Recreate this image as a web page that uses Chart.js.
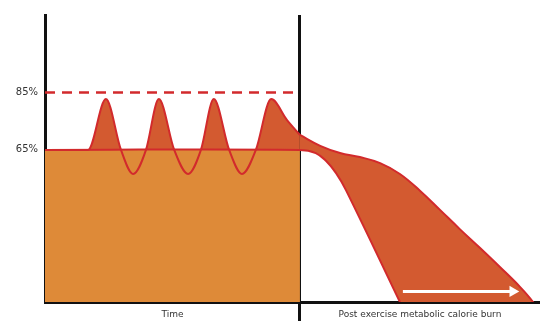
<!DOCTYPE html>
<html>
<head>
<meta charset="utf-8">
<script src="https://cdn.jsdelivr.net/npm/chart.js@4/dist/chart.umd.min.js"></script>
<style>
  html, body { margin: 0; padding: 0; background: #fff; }
  #wrap { width: 540px; height: 321px; position: relative; }
</style>
</head>
<body>
<div id="wrap"><canvas id="burnChart"></canvas></div>
<script>
// intensity (% of max heart rate) over time, arbitrary time units 0..100
const exerciseEnd = 51.5;
const yTicks = [65, 85];
const baseLevel = 65;
const targetLevel = 85;
const xLabels = ['Time', '', 'Post exercise metabolic calorie burn'];

// interval workout curve
const waveX = [0, 8.7, 12.3, 15.35, 17.8, 20.4, 23.0, 26.1, 28.9, 31.5, 34.1, 37.2, 39.8, 42.6, 45.7, 48.9, 51.5];
const waveY = [65, 65, 82.7, 65, 56.6, 65, 82.7, 65, 56.6, 65, 82.7, 65, 56.6, 65, 82.7, 75.4, 70.2];

// upper edge of the afterburn
const burnHighX = [51.5, 55.6, 59.6, 63.6, 67.7, 71.7, 75.8, 79.8, 83.8, 87.9, 91.9, 96.0, 98.6, 99.1];
const burnHighY = [70.2, 66.4, 63.9, 62.5, 60.4, 56.6, 50.7, 44.1, 37.4, 30.8, 24.2, 17.2, 12, 10.1];

// steady 65% baseline, then the lower edge of the afterburn
const lowerX = [0, 51.5, 54.7, 56.8, 58.8, 60.8, 71.7, 72.2, 99.1];
const lowerY = [65, 65, 63.9, 61.1, 56.9, 51.0, 12, 10.1, 10.1];

// afterburn arrow
const arrowX = [72.3, 94.5];
const arrowY = [15.7, 15.7];

const RED = '#d22a2c';
const FILL_RED = '#d35a30';
const ORANGE = '#de8a38';
const INK = '#111';

const pts = (xs, ys) => xs.map((x, i) => ({ x, y: ys[i] }));
const labelPos = [exerciseEnd / 2, exerciseEnd, (exerciseEnd + 100) / 2];
const overBase = { target: 3, above: FILL_RED, below: 'rgba(0,0,0,0)' };

new Chart(document.getElementById('burnChart'), {
  type: 'line',
  data: {
    datasets: [
      {
        label: 'target',
        data: pts([0, exerciseEnd], [targetLevel, targetLevel]),
        borderColor: RED, borderWidth: 2.5, borderDash: [10, 7],
        pointRadius: 0, fill: false, order: 0
      },
      {
        label: 'workout',
        data: pts(waveX, waveY),
        borderColor: RED, borderWidth: 2, pointRadius: 0,
        cubicInterpolationMode: 'monotone',
        fill: overBase, order: 1
      },
      {
        label: 'afterburn',
        data: pts(burnHighX, burnHighY),
        borderColor: RED, borderWidth: 2, pointRadius: 0,
        tension: 0.4,
        fill: overBase, order: 1
      },
      {
        label: 'baseline',
        data: pts(lowerX, lowerY),
        borderColor: RED, borderWidth: 2, pointRadius: 0,
        tension: 0.4,
        fill: false, order: 2
      },
      {
        label: 'block',
        data: pts([0, exerciseEnd], [baseLevel, baseLevel]),
        borderWidth: 0, pointRadius: 0,
        backgroundColor: ORANGE, fill: 'start', order: 3
      },
      {
        label: 'arrow',
        data: pts(arrowX, arrowY),
        borderColor: '#fff', borderWidth: 3,
        pointRadius: [0, 6.5], pointStyle: 'triangle', rotation: 90,
        pointBackgroundColor: '#fff', pointBorderWidth: 0,
        fill: false, order: 0
      }
    ]
  },
  options: {
    responsive: true,
    maintainAspectRatio: false,
    animation: false,
    layout: { autoPadding: false, padding: { top: 15, right: 0, left: 0, bottom: 0 } },
    plugins: {
      legend: { display: false },
      tooltip: { enabled: false },
      filler: { drawTime: 'beforeDatasetsDraw' }
    },
    scales: {
      x: {
        type: 'linear', min: 0, max: 100, z: 1,
        afterBuildTicks: s => { s.ticks = labelPos.map(v => ({ value: v })); },
        afterFit: s => { s.height = 19; s.paddingLeft = 0; s.paddingRight = 0; },
        grid: {
          drawOnChartArea: true, drawTicks: true, tickLength: 19, lineWidth: 3,
          color: c => (c.tick && c.tick.value === exerciseEnd ? INK : 'rgba(0,0,0,0)')
        },
        border: { display: true, color: INK, width: 3 },
        ticks: {
          autoSkip: false, maxRotation: 0, padding: -12,
          color: '#333', font: { family: 'DejaVu Sans', size: 9 },
          callback: (v, i) => xLabels[i]
        }
      },
      y: {
        type: 'linear', min: 12, max: 112, z: 1,
        afterBuildTicks: s => { s.ticks = yTicks.map(v => ({ value: v })); },
        afterFit: s => { s.width = 45; },
        grid: { display: false, drawTicks: false },
        border: { display: true, color: INK, width: 3 },
        ticks: {
          padding: 7, color: '#333', font: { family: 'DejaVu Sans', size: 10 },
          callback: v => v + '%'
        }
      }
    }
  }
});
</script>
</body>
</html>
